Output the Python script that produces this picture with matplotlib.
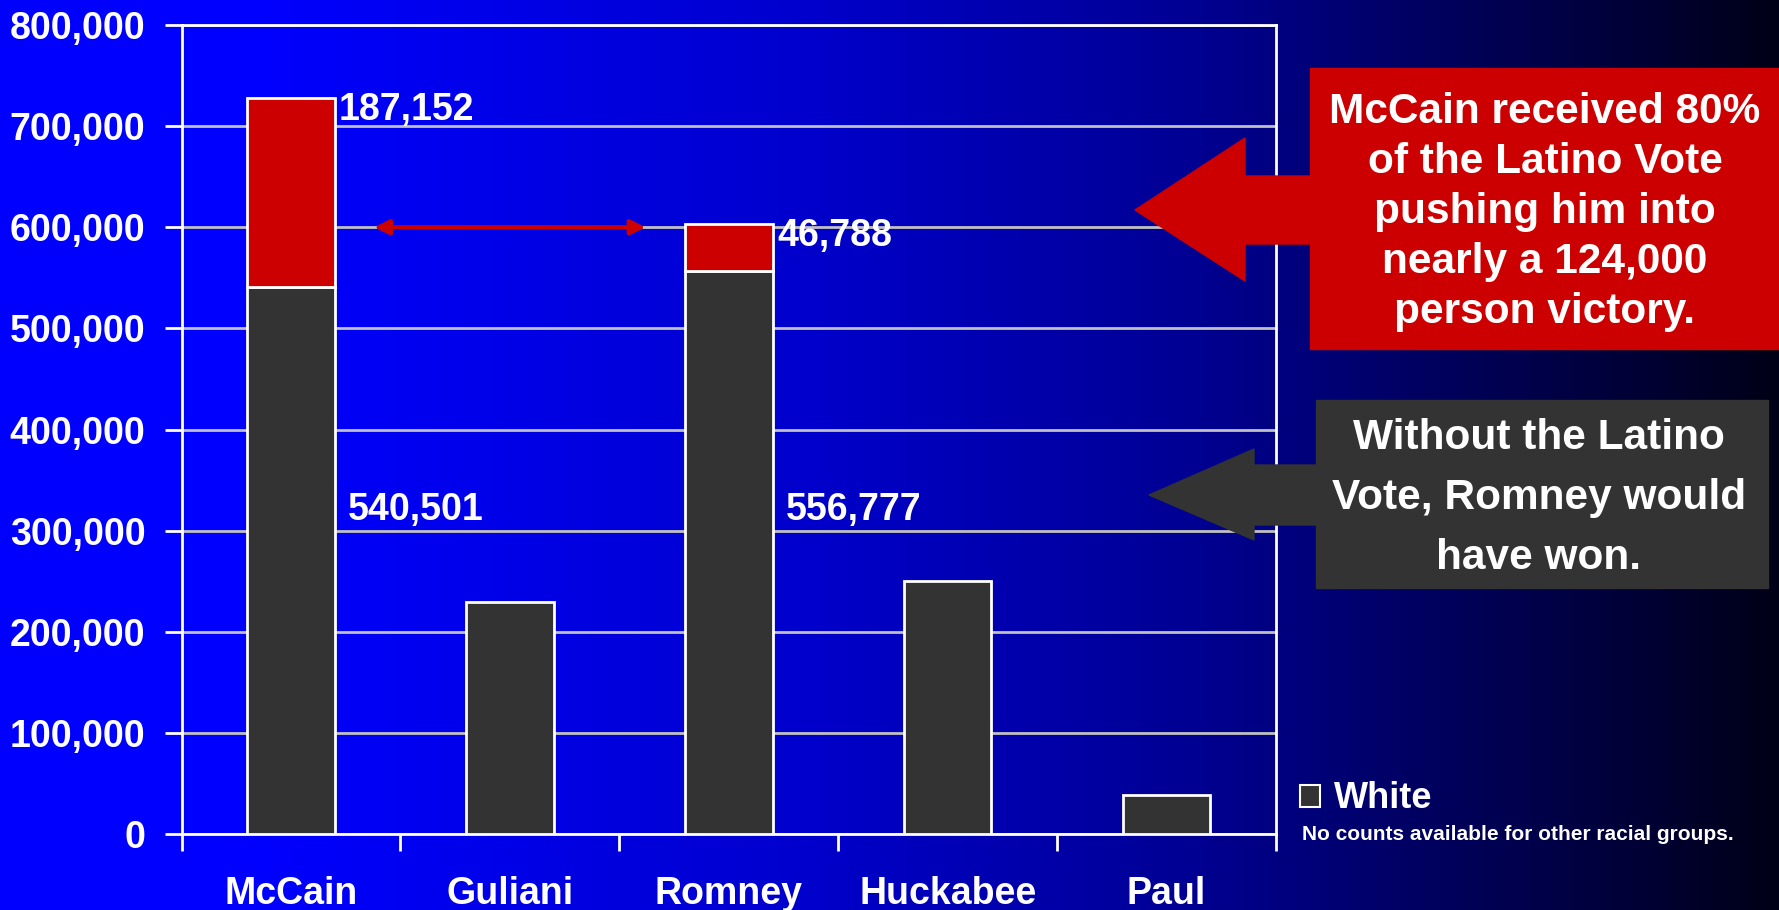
import numpy as np
import matplotlib
matplotlib.use("Agg")
import matplotlib.pyplot as plt
from matplotlib.patches import Rectangle, Polygon, Patch

candidates = ["McCain", "Guliani", "Romney", "Huckabee", "Paul"]
white_votes = [540501, 229000, 556777, 250500, 39000]
latino_votes = [187152, 0, 46788, 0, 0]
y_ticks = [0, 100000, 200000, 300000, 400000, 500000, 600000, 700000, 800000]

red_note = "McCain received 80%\nof the Latino Vote\npushing him into\nnearly a 124,000\nperson victory."
gray_note = "Without the Latino\nVote, Romney would\nhave won."
foot_note = "No counts available for other racial groups."

RED = "#cc0000"
GRAY = "#333333"

plt.rcParams['font.family'] = ['Liberation Sans', 'DejaVu Sans']
plt.rcParams['font.weight'] = 'bold'

W, H = 1779, 910
fig = plt.figure(figsize=(W / 100, H / 100), dpi=100)


def fx(px):
    return px / W


def fy(py):
    return 1 - py / H


# background gradient, blue -> navy -> near black
bg = fig.add_axes([0, 0, 1, 1], zorder=-10)
stops = [0.0, 0.14, 0.45, 0.675, 0.79, 0.93, 1.0]
blues = [255, 255, 205, 145, 100, 50, 22]
grad = np.interp(np.linspace(0, 1, W), stops, blues) / 255
img = np.zeros((1, W, 3))
img[0, :, 2] = grad
bg.imshow(img, aspect='auto', extent=[0, 1, 0, 1])
bg.axis('off')

ax = fig.add_axes([fx(181.5), fy(834), fx(1276) - fx(181.5), fy(25) - fy(834)])
ax.set_facecolor('none')

x = np.arange(len(candidates))
ax.bar(x, white_votes, width=0.4, color=GRAY, edgecolor='white', linewidth=2, zorder=3)
idx = [i for i in range(len(x)) if latino_votes[i] > 0]
ax.bar(x[idx], [latino_votes[i] for i in idx], bottom=[white_votes[i] for i in idx],
       width=0.4, color=RED, edgecolor='white', linewidth=2, zorder=3)

ax.set_xlim(-0.5, 4.5)
ax.set_ylim(0, 800000)
ax.set_yticks(y_ticks)
ax.set_yticklabels([f"{v:,}" for v in y_ticks])
ax.yaxis.grid(True, color='#c0c0c0', linewidth=2)
ax.set_axisbelow(True)
for s in ax.spines.values():
    s.set_color('white')
    s.set_linewidth(2)

ax.set_xticks(x)
ax.set_xticklabels(candidates)
ax.set_xticks(np.arange(-0.5, 5, 1), minor=True)
ax.tick_params(axis='x', which='major', length=0, pad=30, labelsize=27, labelcolor='white')
ax.tick_params(axis='x', which='minor', length=12, width=2, color='white')
ax.tick_params(axis='y', length=12, width=2, color='white', pad=14, labelsize=27, labelcolor='white')

# labels for the vote counts
for i in idx:
    ax.text(x[i] + 0.22, white_votes[i] + latino_votes[i] - 12000, f"{latino_votes[i]:,}",
            color='white', fontsize=27, ha='left', va='center')
    ax.text(x[i] + 0.26, 320000, f"{white_votes[i]:,}",
            color='white', fontsize=27, ha='left', va='center')

# gap between McCain and Romney
ax.annotate('', xy=(1.62, 600000), xytext=(0.38, 600000),
            arrowprops=dict(arrowstyle='<|-|>', color=RED, lw=3, mutation_scale=22,
                            shrinkA=0, shrinkB=0), zorder=4)

# call-out boxes with arrows
fig.patches.append(Rectangle((fx(1310), fy(349)), fx(1779) - fx(1310), fy(68) - fy(349),
                             transform=fig.transFigure, color=RED, zorder=1))
red_arrow = [(1135, 210), (1245, 138), (1245, 176), (1312, 176), (1312, 244), (1245, 244), (1245, 281)]
fig.patches.append(Polygon([(fx(a), fy(b)) for a, b in red_arrow], closed=True,
                           transform=fig.transFigure, color=RED, zorder=1))
fig.text(fx(1545), fy(212), red_note, color='white', fontsize=30.5, ha='center', va='center',
         linespacing=1.32)

fig.patches.append(Rectangle((fx(1316), fy(588)), fx(1768) - fx(1316), fy(400) - fy(588),
                             transform=fig.transFigure, color=GRAY, zorder=1))
gray_arrow = [(1149, 495), (1254, 449), (1254, 465), (1318, 465), (1318, 525), (1254, 525), (1254, 540)]
fig.patches.append(Polygon([(fx(a), fy(b)) for a, b in gray_arrow], closed=True,
                           transform=fig.transFigure, color=GRAY, zorder=1))
fig.text(fx(1539), fy(498), gray_note, color='white', fontsize=30.5, ha='center', va='center',
         linespacing=1.64)

# legend
handle = Patch(facecolor=GRAY, edgecolor='white', linewidth=1.5)
leg = fig.legend([handle], ["White"], loc='center left', bbox_to_anchor=(fx(1300), fy(799)),
                 frameon=False, fontsize=26, handlelength=0.55, handleheight=0.55,
                 handletextpad=0.4, borderpad=0, borderaxespad=0)
for t in leg.get_texts():
    t.set_color('white')
fig.text(fx(1302), fy(834), foot_note, color='white', fontsize=15, ha='left', va='center')

fig.savefig("out.png", dpi=100)
